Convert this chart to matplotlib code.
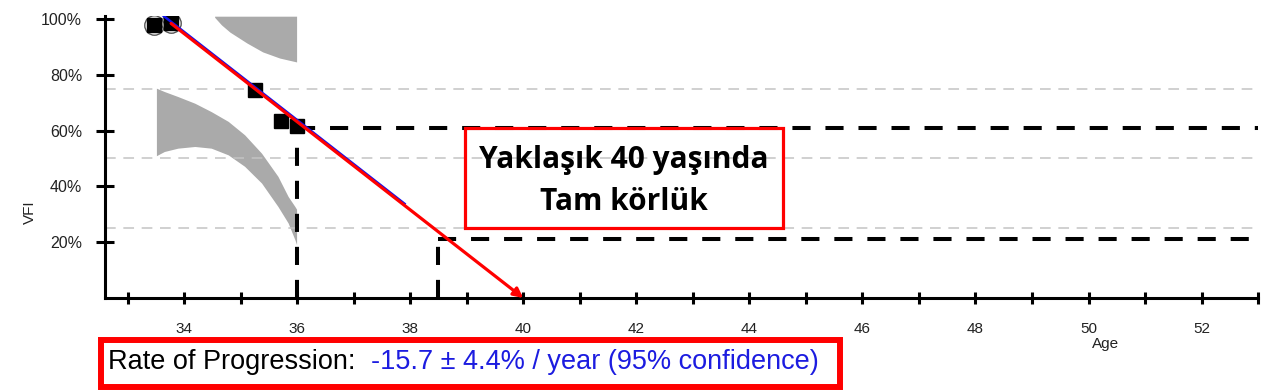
import numpy as np
import matplotlib
matplotlib.use("Agg")
import matplotlib.pyplot as plt
from matplotlib.patches import Rectangle

# visual field index measurements
ages = [33.46, 33.77, 35.26, 35.71, 35.99]
vfi = [97.9, 98.7, 74.4, 63.6, 61.5]
circled = [0, 1]

# progression rate (% / year) and its 95% CI
rate = -15.7
rate_ci = 4.4

# grey normative bands
band_hi_age = [34.54, 34.66, 34.81, 35.11, 35.39, 35.69, 35.99]
band_hi_low = [100.6, 97.9, 95.3, 91.4, 88.2, 86.0, 84.6]
band_lo_age = [33.51, 33.65, 33.89, 34.19, 34.48, 34.78, 35.07, 35.37, 35.66, 35.84, 35.96, 35.99]
band_lo_upper = [75.2, 74.0, 72.2, 69.8, 66.8, 63.3, 58.5, 51.9, 43.6, 36.4, 32.8, 31.8]
band_lo_lower = [51.0, 52.5, 53.7, 54.3, 53.7, 51.3, 47.2, 41.2, 32.8, 26.9, 20.9, 19.1]

# guide lines
guide_levels = [75, 50, 25]
now_age, now_vfi = 36.0, 60.9
blind_age, blind_vfi = 38.5, 21.0
zero_age = 40.0

x_ticks = list(range(34, 53, 2))
y_ticks = [20, 40, 60, 80, 100]

plt.rcParams["font.family"] = ["Liberation Sans", "DejaVu Sans"]

W, H = 1277, 390
fig = plt.figure(figsize=(W / 100, H / 100), dpi=100)
ax = fig.add_axes([0.0822, 0.2359, 0.9030, 0.7226])
xmin, xmax = 32.6, 53.0
ax.set_xlim(xmin, xmax)
ax.set_ylim(0, 101)

# bands
ax.fill_between(band_hi_age, band_hi_low, 101, color="#aaaaaa", lw=0, zorder=1)
ax.fill_between(band_lo_age, band_lo_lower, band_lo_upper, color="#aaaaaa", lw=0, zorder=1)

for lv in guide_levels:
    ax.axhline(lv, color="#c4c4c4", lw=1.1, ls=(0, (7, 5)), zorder=2)

# black dashed reference lines
dash = (0, (4.5, 3.7))
ax.plot([now_age, now_age], [0, now_vfi], color="black", lw=2.9, ls=dash, zorder=3)
ax.plot([now_age, xmax], [now_vfi, now_vfi], color="black", lw=2.9, ls=dash, zorder=3)
ax.plot([blind_age, blind_age], [0, blind_vfi], color="black", lw=2.9, ls=dash, zorder=3)
ax.plot([blind_age, xmax], [blind_vfi, blind_vfi], color="black", lw=2.9, ls=dash, zorder=3)

# points
ax.plot([ages[i] for i in circled], [vfi[i] for i in circled], "o", ms=14,
        mfc="none", mec="#555555", mew=1.0, zorder=4)
ax.plot(ages, vfi, "s", ms=10.5, color="black", zorder=4)

# regression (blue) just under the projection arrow (red)
start_y = vfi[1] - 0.3
proj_slope = (0 - start_y) / (zero_age - ages[1])
bx = np.array([ages[0], 37.9])
by = start_y + 0.6 + proj_slope * (bx - ages[1])
ax.plot(bx, by, color="#1010ee", lw=1.8, zorder=5)
ax.annotate("", xy=(zero_age, 0), xytext=(ages[1], start_y),
            arrowprops=dict(arrowstyle="-|>", color="red", lw=2.3,
                            mutation_scale=14, shrinkA=0, shrinkB=0),
            annotation_clip=False, zorder=6)

# axes styling
for s in ["top", "right"]:
    ax.spines[s].set_visible(False)
for s in ["left", "bottom"]:
    ax.spines[s].set_linewidth(2.2)
ax.set_xticks(x_ticks)
ax.set_xticklabels([str(t) for t in x_ticks])
ax.set_xticks(list(range(33, 54)), minor=True)
ax.tick_params(axis="x", which="both", direction="inout", length=8, width=2.2,
               pad=13, labelsize=11, labelcolor="#222222")
ax.set_yticks(y_ticks)
ax.set_yticklabels([f"{t}%" for t in y_ticks])
ax.tick_params(axis="y", direction="inout", length=13, width=2.2, pad=10,
               labelsize=11.5, labelcolor="#222222")

fig.text(30 / W, 1 - 212 / H, "VFI", rotation=90, ha="center", va="center",
         fontsize=11, color="#222222")
fig.text(1106 / W, 1 - 344 / H, "Age", ha="center", va="center", fontsize=11,
         color="#222222")

# annotation box
fig.patches.append(Rectangle((465 / W, 1 - 228 / H), 318 / W, 100 / H,
                             transform=fig.transFigure, fill=False,
                             ec="red", lw=2.3, zorder=10))
fig.text(624 / W, 1 - 160 / H, "Yaklaşık 40 yaşında", ha="center", va="center",
         fontsize=21.5, fontweight="bold", family=["Open Sans", "DejaVu Sans"])
fig.text(624 / W, 1 - 202 / H, "Tam körlük", ha="center", va="center",
         fontsize=21.5, fontweight="bold", family=["Open Sans", "DejaVu Sans"])

# progression box
fig.patches.append(Rectangle((101 / W, 1 - 387 / H), 739 / W, 47 / H,
                             transform=fig.transFigure, fill=False,
                             ec="red", lw=4.3, zorder=10))
fig.text(108 / W, 1 - 362 / H, "Rate of Progression:", ha="left", va="center",
         fontsize=19.5, color="black")
fig.text(371 / W, 1 - 362 / H, f"{rate} ± {rate_ci}% / year (95% confidence)",
         ha="left", va="center", fontsize=19.5, color="#1c1ce0")

fig.savefig("out.png", dpi=100)
